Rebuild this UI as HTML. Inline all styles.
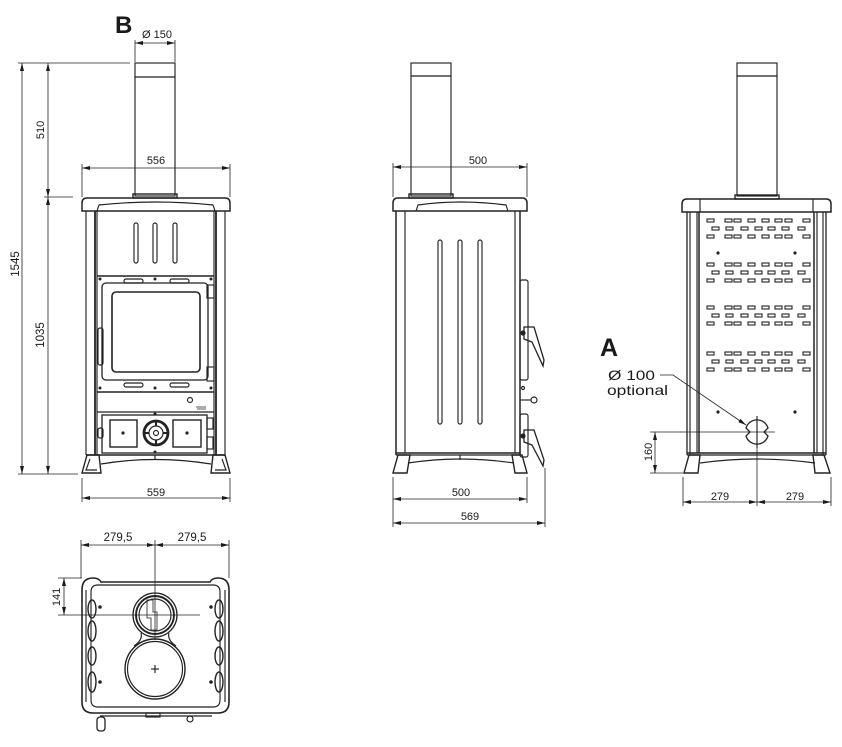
<!DOCTYPE html>
<html><head><meta charset="utf-8"><style>
html,body{margin:0;padding:0;background:#fff;}
svg{display:block;}
text{font-family:"Liberation Sans",sans-serif;fill:#1a1a1a;}
</style></head><body>
<svg width="842" height="747" viewBox="0 0 842 747" xmlns="http://www.w3.org/2000/svg">
<defs>
<marker id="ar" viewBox="0 0 8 4" refX="8" refY="2" markerWidth="8" markerHeight="4" orient="auto-start-reverse" markerUnits="userSpaceOnUse"><path d="M0,0 L8,2 L0,4 Z" fill="#1a1a1a"/></marker>
<g id="slotA" fill="none" stroke="#222" stroke-width="1.1">
<rect x="707" y="0" width="7" height="3"/><rect x="725" y="0" width="7" height="3"/><rect x="734" y="0" width="7" height="3"/><rect x="748" y="0" width="7" height="3"/><rect x="762" y="0" width="7" height="3"/><rect x="775" y="0" width="7" height="3"/><rect x="785" y="0" width="7" height="3"/><rect x="803" y="0" width="7" height="3"/>
</g>
<g id="slotB" fill="none" stroke="#222" stroke-width="1.1">
<rect x="712" y="0" width="7" height="3"/><rect x="726" y="0" width="7" height="3"/><rect x="741" y="0" width="7" height="3"/><rect x="755" y="0" width="7" height="3"/><rect x="768" y="0" width="7" height="3"/><rect x="782" y="0" width="7" height="3"/><rect x="798" y="0" width="7" height="3"/>
</g>
<g id="grp"><use href="#slotA" y="0"/><use href="#slotB" y="8"/><use href="#slotA" y="16"/></g>
</defs>

<g fill="none" stroke="#222" stroke-width="1.15">
<!-- ================= FRONT VIEW ================= -->
<rect x="135" y="63" width="40" height="14"/>
<rect x="135" y="77" width="40" height="119"/>
<rect x="133" y="194" width="44" height="4" stroke-width="1.4"/>
<path d="M82,211 L82,203 Q82,198 87,198 L225,198 Q230,198 230,203 L230,211 Z" stroke-width="1.5"/>
<path d="M97,211 L99,205 Q155,199 213,205 L215,211"/>
<line x1="86" y1="211" x2="86" y2="455"/>
<line x1="95" y1="211" x2="95" y2="455" stroke-width="1.8"/>
<line x1="97" y1="211" x2="97" y2="455"/>
<line x1="214" y1="211" x2="214" y2="455"/>
<line x1="216" y1="211" x2="216" y2="455" stroke-width="1.8"/>
<line x1="225" y1="211" x2="225" y2="455"/>
<line x1="97" y1="276" x2="214" y2="276" stroke-width="1.5"/>
<rect x="134" y="223" width="4" height="40" rx="2"/>
<rect x="153" y="223" width="4" height="40" rx="2"/>
<rect x="173" y="223" width="4" height="40" rx="2"/>
<rect x="102" y="283" width="106" height="97" rx="4" stroke-width="1.3"/>
<rect x="112" y="292" width="88" height="80" rx="4" stroke-width="1.6"/>
<rect x="124" y="279" width="19" height="4" rx="2"/>
<rect x="170" y="279" width="19" height="4" rx="2"/>
<rect x="124" y="383" width="19" height="4" rx="2"/>
<rect x="170" y="383" width="19" height="4" rx="2"/>
<rect x="98" y="328" width="5" height="37" rx="2"/>
<rect x="207" y="285" width="7" height="13"/>
<rect x="207" y="367" width="7" height="14"/>
<line x1="97" y1="392" x2="214" y2="392" stroke-width="1.5"/>
<line x1="97" y1="412" x2="214" y2="412"/>
<circle cx="190" cy="400" r="2.5"/>
<path d="M196,407 L206,407 M197,409 L206,409" stroke-width="0.8"/>
<rect x="102" y="415" width="105" height="38" stroke-width="1.3"/>
<rect x="110" y="420" width="27" height="27" stroke-width="1.4"/>
<rect x="173" y="420" width="28" height="27" stroke-width="1.4"/>
<circle cx="156" cy="433" r="12" stroke-width="2.8"/>
<circle cx="156" cy="433" r="7"/>
<circle cx="156" cy="433" r="2.5"/>
<path d="M156,421 L156,426 M156,440 L156,445 M144,433 L149,433 M163,433 L168,433" stroke-width="2"/>
<rect x="207" y="418" width="6" height="11"/>
<rect x="207" y="437" width="6" height="12"/>
<rect x="98" y="428" width="5" height="10" rx="2"/>
<line x1="86" y1="455" x2="225" y2="455" stroke-width="1.5"/>
<path d="M101,464 Q155,455 211,464"/>
<line x1="155" y1="455" x2="155" y2="459"/>
<path d="M87,455 L99,455 L101,473 L82,473 Z" stroke-width="1.4"/>
<path d="M90,459 L86,470 L97,470"/>
<path d="M225,455 L213,455 L211,473 L230,473 Z" stroke-width="1.4"/>
<path d="M222,459 L226,470 L215,470"/>
</g>
<g fill="#222">
<circle cx="100" cy="279" r="1.5"/><circle cx="155" cy="279" r="1.5"/><circle cx="211" cy="279" r="1.5"/>
<circle cx="100" cy="388" r="1.5"/><circle cx="155" cy="388" r="1.5"/><circle cx="211" cy="388" r="1.5"/>
<circle cx="155" cy="414" r="1.5"/><circle cx="155" cy="452" r="1.5"/>
<circle cx="123" cy="433" r="1.6"/><circle cx="187" cy="433" r="1.6"/>
</g>

<g fill="none" stroke="#222" stroke-width="0.8">
<line x1="135" y1="40" x2="135" y2="62"/><line x1="175" y1="40" x2="175" y2="62"/>
<line x1="135" y1="43" x2="175" y2="43" marker-start="url(#ar)" marker-end="url(#ar)"/>
<line x1="82" y1="164" x2="82" y2="197"/><line x1="230" y1="164" x2="230" y2="197"/>
<line x1="82" y1="168" x2="230" y2="168" marker-start="url(#ar)" marker-end="url(#ar)"/>
<line x1="18" y1="63" x2="130" y2="63"/>
<line x1="44" y1="197" x2="73" y2="197"/>
<line x1="18" y1="474" x2="78" y2="474"/>
<line x1="22" y1="63" x2="22" y2="474" marker-start="url(#ar)" marker-end="url(#ar)"/>
<line x1="48" y1="63" x2="48" y2="197" marker-start="url(#ar)" marker-end="url(#ar)"/>
<line x1="48" y1="197" x2="48" y2="474" marker-start="url(#ar)" marker-end="url(#ar)"/>
<line x1="82" y1="478" x2="82" y2="502"/><line x1="230" y1="478" x2="230" y2="502"/>
<line x1="82" y1="498" x2="230" y2="498" marker-start="url(#ar)" marker-end="url(#ar)"/>
</g>
<text x="115" y="33" font-size="24" font-weight="bold">B</text>
<text x="157" y="38" font-size="11" text-anchor="middle">Ø 150</text>
<text x="156" y="164" font-size="11" text-anchor="middle">556</text>
<text x="156" y="496" font-size="11" text-anchor="middle">559</text>
<text transform="translate(19,264) rotate(-90)" font-size="11.5" text-anchor="middle">1545</text>
<text transform="translate(44,130) rotate(-90)" font-size="11" text-anchor="middle">510</text>
<text transform="translate(44,335) rotate(-90)" font-size="11.5" text-anchor="middle">1035</text>

<!-- ================= SIDE VIEW ================= -->
<g fill="none" stroke="#222" stroke-width="1.15">
<rect x="411" y="63" width="40" height="13"/>
<rect x="411" y="76" width="40" height="120"/>
<rect x="409" y="194" width="44" height="4" stroke-width="1.4"/>
<path d="M393,211 L393,203 Q393,198 398,198 L522,198 Q527,198 527,203 L527,211 Z" stroke-width="1.5"/>
<path d="M416,211 L418,205 Q460,199 506,205 L508,211"/>
<line x1="396" y1="211" x2="396" y2="455" stroke-width="1.5"/>
<line x1="405" y1="211" x2="405" y2="453"/>
<line x1="515" y1="211" x2="515" y2="453"/>
<line x1="520" y1="211" x2="520" y2="455" stroke-width="1.5"/>
<rect x="438" y="240" width="4" height="184" rx="2"/>
<rect x="458" y="240" width="4" height="184" rx="2"/>
<rect x="478" y="240" width="4" height="184" rx="2"/>
<line x1="396" y1="453" x2="520" y2="453" stroke-width="1.5"/>
<line x1="396" y1="455" x2="520" y2="455"/>
<path d="M408,463 Q460,455 514,463"/>
<line x1="460" y1="455" x2="460" y2="460"/>
<path d="M398,455 L410,455 L407,473 L393,473 Z" stroke-width="1.4"/>
<path d="M512,455 L522,455 L527,473 L515,473 Z" stroke-width="1.4"/>
<rect x="520" y="280" width="8" height="100" rx="2"/>
<path d="M524,327 L534,327 L544,360 L543,366 L532,342 L524,339 Z" stroke-width="1.3"/>
<circle cx="523" cy="333" r="2" fill="#222"/>
<circle cx="523" cy="388" r="1.5"/>
<line x1="520" y1="400" x2="531" y2="400"/>
<circle cx="534" cy="400" r="3"/>
<rect x="520" y="414" width="8" height="43" rx="2"/>
<path d="M524,430 L534,430 L544,460 L543,466 L532,445 L524,442 Z" stroke-width="1.3"/>
<circle cx="523" cy="436" r="2" fill="#222"/>
</g>
<g fill="none" stroke="#222" stroke-width="0.8">
<line x1="393" y1="163" x2="393" y2="197"/><line x1="527" y1="163" x2="527" y2="197"/>
<line x1="393" y1="167" x2="527" y2="167" marker-start="url(#ar)" marker-end="url(#ar)"/>
<line x1="393" y1="477" x2="393" y2="527"/><line x1="527" y1="477" x2="527" y2="503"/>
<line x1="545" y1="468" x2="545" y2="527"/>
<line x1="393" y1="499" x2="527" y2="499" marker-start="url(#ar)" marker-end="url(#ar)"/>
<line x1="393" y1="523" x2="545" y2="523" marker-start="url(#ar)" marker-end="url(#ar)"/>
</g>
<text x="478" y="164" font-size="11" text-anchor="middle">500</text>
<text x="461" y="496" font-size="11" text-anchor="middle">500</text>
<text x="470" y="520" font-size="11" text-anchor="middle">569</text>

<!-- ================= BACK VIEW ================= -->
<g fill="none" stroke="#222" stroke-width="1.15">
<rect x="737" y="63" width="40" height="13"/>
<rect x="737" y="76" width="40" height="120"/>
<rect x="735" y="195" width="44" height="4" stroke-width="1.4"/>
<path d="M682,212 L682,204 Q682,199 687,199 L826,199 Q831,199 831,204 L831,212 Z" stroke-width="1.5"/>
<line x1="700" y1="199" x2="700" y2="212"/>
<line x1="813" y1="199" x2="813" y2="212"/>
<line x1="687" y1="212" x2="687" y2="455" stroke-width="1.3"/>
<line x1="690" y1="212" x2="690" y2="455"/>
<line x1="697" y1="212" x2="697" y2="453"/>
<line x1="699" y1="212" x2="699" y2="453" stroke-width="1.5"/>
<line x1="814" y1="212" x2="814" y2="453" stroke-width="1.5"/>
<line x1="817" y1="212" x2="817" y2="453"/>
<line x1="823" y1="212" x2="823" y2="455"/>
<line x1="826" y1="212" x2="826" y2="455" stroke-width="1.3"/>
<line x1="687" y1="453" x2="826" y2="453" stroke-width="1.6"/>
<line x1="687" y1="455" x2="826" y2="455"/>
<path d="M700,463 Q757,455 815,463"/>
<path d="M689,455 L700,455 L698,473 L684,473 Z" stroke-width="1.4"/>
<path d="M813,455 L824,455 L830,473 L815,473 Z" stroke-width="1.4"/>
<path d="M746,428 A11.5,11.5 0 0 1 768,428 L764,432 L768,436 A11.5,11.5 0 0 1 746,436 L750,432 Z" stroke-width="1.3"/>
<line x1="757" y1="416" x2="757" y2="448"/>
</g>
<use href="#grp" y="219"/>
<use href="#grp" y="263"/>
<use href="#grp" y="306"/>
<use href="#grp" y="352"/>
<g fill="#222">
<circle cx="718" cy="253" r="1.6"/><circle cx="795" cy="253" r="1.6"/>
<circle cx="718" cy="412" r="1.6"/><circle cx="795" cy="412" r="1.6"/>
</g>
<g fill="none" stroke="#222" stroke-width="0.8">
<line x1="650" y1="432" x2="775" y2="432"/>
<line x1="650" y1="473" x2="683" y2="473"/>
<line x1="655" y1="432" x2="655" y2="473" marker-start="url(#ar)" marker-end="url(#ar)"/>
<line x1="683" y1="477" x2="683" y2="506"/>
<line x1="757" y1="448" x2="757" y2="506"/>
<line x1="831" y1="477" x2="831" y2="506"/>
<line x1="683" y1="502" x2="757" y2="502" marker-start="url(#ar)" marker-end="url(#ar)"/>
<line x1="757" y1="502" x2="831" y2="502" marker-start="url(#ar)" marker-end="url(#ar)"/>
<polyline points="660,375 673,375 746,425" marker-end="url(#ar)"/>
</g>
<text x="600" y="356" font-size="25" font-weight="bold">A</text>
<text x="608" y="380" font-size="14" textLength="47" lengthAdjust="spacingAndGlyphs">Ø 100</text>
<text x="607" y="395" font-size="14" textLength="61" lengthAdjust="spacingAndGlyphs">optional</text>
<text transform="translate(652,452) rotate(-90)" font-size="11" text-anchor="middle">160</text>
<text x="720" y="500" font-size="11" text-anchor="middle">279</text>
<text x="795" y="500" font-size="11" text-anchor="middle">279</text>

<!-- ================= TOP VIEW ================= -->
<g fill="none" stroke="#222" stroke-width="1.15">
<path d="M82,590 Q82,578 93,578 Q99,578 101,582 L210,582 Q212,578 218,578 Q229,578 229,590 L229,702 Q229,713 218,713 L93,713 Q82,713 82,702 Z" stroke-width="1.6"/>
<path d="M91,592 Q91,585 98,585 L213,585 Q220,585 220,592 L220,700 Q220,707 213,707 L98,707 Q91,707 91,700 Z"/>
<line x1="86" y1="590" x2="86" y2="702"/>
<line x1="225" y1="590" x2="225" y2="702"/>
<ellipse cx="92" cy="609" rx="4" ry="9" stroke-width="1.4"/>
<ellipse cx="92" cy="631" rx="4" ry="10" stroke-width="1.4"/>
<ellipse cx="92" cy="656" rx="4" ry="9" stroke-width="1.4"/>
<ellipse cx="92" cy="682" rx="4" ry="10" stroke-width="1.4"/>
<ellipse cx="219" cy="609" rx="4" ry="9" stroke-width="1.4"/>
<ellipse cx="219" cy="631" rx="4" ry="10" stroke-width="1.4"/>
<ellipse cx="219" cy="656" rx="4" ry="9" stroke-width="1.4"/>
<ellipse cx="219" cy="682" rx="4" ry="10" stroke-width="1.4"/>
<circle cx="155" cy="615" r="22" stroke-width="1.3"/>
<circle cx="155" cy="615" r="19" stroke-width="1.9"/>
<circle cx="155" cy="615" r="16"/>
<path d="M147,600 L153,600 L153,612 L157,612 L157,630 L151,630 L151,618 L147,618 Z" stroke-width="0.8"/>
<path d="M141,633 Q143,640 134,646"/>
<path d="M169,633 Q167,640 176,646"/>
<circle cx="155" cy="669" r="30" stroke-width="1.4"/>
<circle cx="155" cy="669" r="27.5"/>
<line x1="151" y1="669" x2="159" y2="669"/><line x1="155" y1="665" x2="155" y2="673"/>
<line x1="100" y1="716" x2="212" y2="716"/>
<rect x="97" y="717" width="8" height="14" rx="3" stroke-width="1.3"/>
<rect x="146" y="713" width="14" height="4"/>
<circle cx="190" cy="719" r="3"/>
</g>
<g fill="#222">
<circle cx="100" cy="607" r="1.8"/><circle cx="100" cy="682" r="1.8"/>
<circle cx="211" cy="607" r="1.8"/><circle cx="211" cy="682" r="1.8"/>
</g>
<g fill="none" stroke="#222" stroke-width="0.8">
<line x1="81" y1="540" x2="81" y2="578"/>
<line x1="229" y1="540" x2="229" y2="578"/>
<line x1="155" y1="540" x2="155" y2="640"/>
<line x1="81" y1="545" x2="155" y2="545" marker-start="url(#ar)" marker-end="url(#ar)"/>
<line x1="155" y1="545" x2="229" y2="545" marker-start="url(#ar)" marker-end="url(#ar)"/>
<line x1="58" y1="578" x2="82" y2="578"/>
<line x1="58" y1="615" x2="200" y2="615"/>
<line x1="64" y1="578" x2="64" y2="615" marker-start="url(#ar)" marker-end="url(#ar)"/>
</g>
<text x="118" y="541" font-size="11.5" text-anchor="middle">279,5</text>
<text x="192" y="541" font-size="11.5" text-anchor="middle">279,5</text>
<text transform="translate(60,597) rotate(-90)" font-size="11" text-anchor="middle">141</text>
</svg>
</body></html>
